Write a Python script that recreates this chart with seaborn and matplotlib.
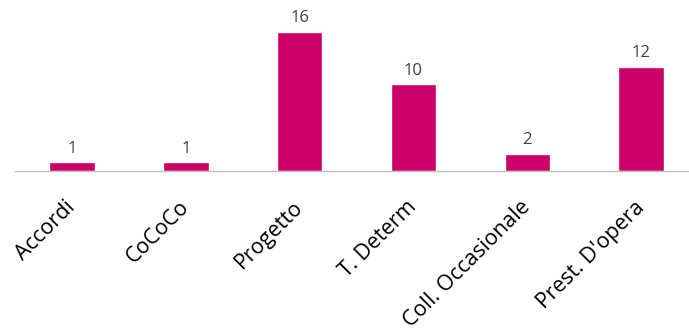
import matplotlib
matplotlib.use("Agg")
import pandas as pd
import seaborn as sns
import matplotlib.pyplot as plt

categories = ["Accordi", "CoCoCo", "Progetto", "T. Determ", "Coll. Occasionale", "Prest. D'opera"]
counts = [1, 1, 16, 10, 2, 12]

df = pd.DataFrame({"Tipo": categories, "Numero": counts})

sns.set_style("white")
plt.rcParams["font.family"] = ["Open Sans", "DejaVu Sans"]

fig = plt.figure(figsize=(6.89, 3.32), dpi=100)
ax = fig.add_axes([15 / 689, 161 / 332, 674 / 689, 171 / 332])

sns.barplot(data=df, x="Tipo", y="Numero", color="#CC0066", width=0.4,
            saturation=1, ax=ax)

for i, v in enumerate(counts):
    ax.annotate(str(v), (i, v), xytext=(0, 4), textcoords="offset points",
                ha="center", va="bottom", fontsize=12, color="#404040")

ax.set_xlim(-0.5, 5.42)
ax.set_ylim(0, 19.68)
ax.set_xlabel("")
ax.set_ylabel("")
ax.set_yticks([])
for s in ["top", "right", "left"]:
    ax.spines[s].set_visible(False)
ax.spines["bottom"].set_color("#BFBFBF")
ax.spines["bottom"].set_linewidth(1)
ax.tick_params(axis="x", length=0, pad=24)
plt.setp(ax.get_xticklabels(), rotation=45, ha="right", va="center",
         rotation_mode="anchor", fontsize=15.5, color="black")

fig.savefig("out.png", dpi=100)
